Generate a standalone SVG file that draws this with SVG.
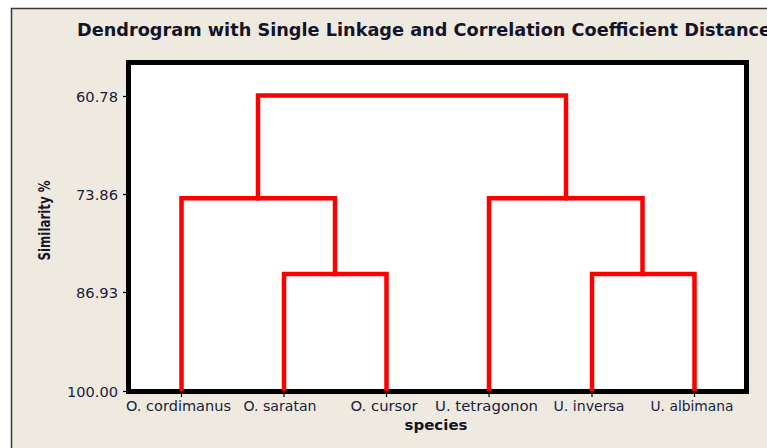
<svg xmlns="http://www.w3.org/2000/svg" width="767" height="448" viewBox="0 0 767 448">
<style>
.frame{fill:#eeeae0;stroke:#3a3a3a;stroke-width:1.5}
.plot{fill:#ffffff;stroke:#000000;stroke-width:5}
.link{fill:none;stroke:#ff0000;stroke-width:4.5;stroke-linejoin:miter;stroke-linecap:square}
.tick{stroke:#000;stroke-width:1.2}
.title{font-family:"DejaVu Sans",Verdana,sans-serif;font-weight:bold;font-size:17px;fill:#141428}
.ax{font-family:"DejaVu Sans",Verdana,sans-serif;font-size:14px;fill:#1c1c3c}
.lbl{font-family:"DejaVu Sans",Verdana,sans-serif;font-size:13.5px;fill:#1c1c3c}
.axt{font-family:"DejaVu Sans",Verdana,sans-serif;font-weight:bold;font-size:14.5px;fill:#141428}
.ylab{font-family:"DejaVu Sans",Verdana,sans-serif;font-weight:bold;font-size:15px;fill:#141428}
</style>
<rect x="0" y="0" width="767" height="448" fill="#ffffff"/>
<path class="frame" d="M11.5 460 V8.5 H780 V460 Z"/>
<text class="title" x="77" y="35.5" textLength="694" lengthAdjust="spacingAndGlyphs">Dendrogram with Single Linkage and Correlation Coefficient Distance</text>
<rect class="plot" x="128.5" y="62.5" width="618" height="329"/>
<g id="yaxis">
<line class="tick" x1="123" y1="96.5" x2="128" y2="96.5"/>
<line class="tick" x1="123" y1="194.5" x2="128" y2="194.5"/>
<line class="tick" x1="123" y1="292.5" x2="128" y2="292.5"/>
<line class="tick" x1="123" y1="391.5" x2="128" y2="391.5"/>
<text class="ax" x="118" y="101.5" text-anchor="end" textLength="42" lengthAdjust="spacingAndGlyphs">60.78</text>
<text class="ax" x="118" y="199.5" text-anchor="end" textLength="42" lengthAdjust="spacingAndGlyphs">73.86</text>
<text class="ax" x="118" y="297.5" text-anchor="end" textLength="42" lengthAdjust="spacingAndGlyphs">86.93</text>
<text class="ax" x="118" y="396.5" text-anchor="end" textLength="51" lengthAdjust="spacingAndGlyphs">100.00</text>
<text class="ylab" x="0" y="0" transform="translate(50,220.5) rotate(-90)" text-anchor="middle" textLength="80" lengthAdjust="spacingAndGlyphs">Similarity %</text>
</g>
<g id="xaxis">
<line class="tick" x1="181.5" y1="394" x2="181.5" y2="397"/>
<line class="tick" x1="284" y1="394" x2="284" y2="397"/>
<line class="tick" x1="386.5" y1="394" x2="386.5" y2="397"/>
<line class="tick" x1="489" y1="394" x2="489" y2="397"/>
<line class="tick" x1="592" y1="394" x2="592" y2="397"/>
<line class="tick" x1="694.5" y1="394" x2="694.5" y2="397"/>
<text class="axt" x="436" y="430" text-anchor="middle" textLength="63" lengthAdjust="spacingAndGlyphs">species</text>
</g>
<g id="leaf-cordimanus"><text class="lbl" x="178.5" y="411" text-anchor="middle" textLength="105" lengthAdjust="spacingAndGlyphs">O. cordimanus</text></g>
<g id="leaf-saratan"><text class="lbl" x="280" y="411" text-anchor="middle" textLength="73" lengthAdjust="spacingAndGlyphs">O. saratan</text></g>
<g id="leaf-cursor"><text class="lbl" x="384" y="411" text-anchor="middle" textLength="67" lengthAdjust="spacingAndGlyphs">O. cursor</text></g>
<g id="leaf-tetragonon"><text class="lbl" x="486.5" y="411" text-anchor="middle" textLength="103" lengthAdjust="spacingAndGlyphs">U. tetragonon</text></g>
<g id="leaf-inversa"><text class="lbl" x="589" y="411" text-anchor="middle" textLength="71" lengthAdjust="spacingAndGlyphs">U. inversa</text></g>
<g id="leaf-albimana"><text class="lbl" x="692" y="411" text-anchor="middle" textLength="83" lengthAdjust="spacingAndGlyphs">U. albimana</text></g>
<g id="connectors">
<path class="link" d="M284 389 V274 H386.5 V389"/>
<path class="link" d="M181.5 389 V198.3 H335 V274"/>
<path class="link" d="M592 389 V274 H694.5 V389"/>
<path class="link" d="M489 389 V198.3 H642.5 V274"/>
<path class="link" d="M258 198.3 V95.5 H566 V198.3"/>
</g>
</svg>
